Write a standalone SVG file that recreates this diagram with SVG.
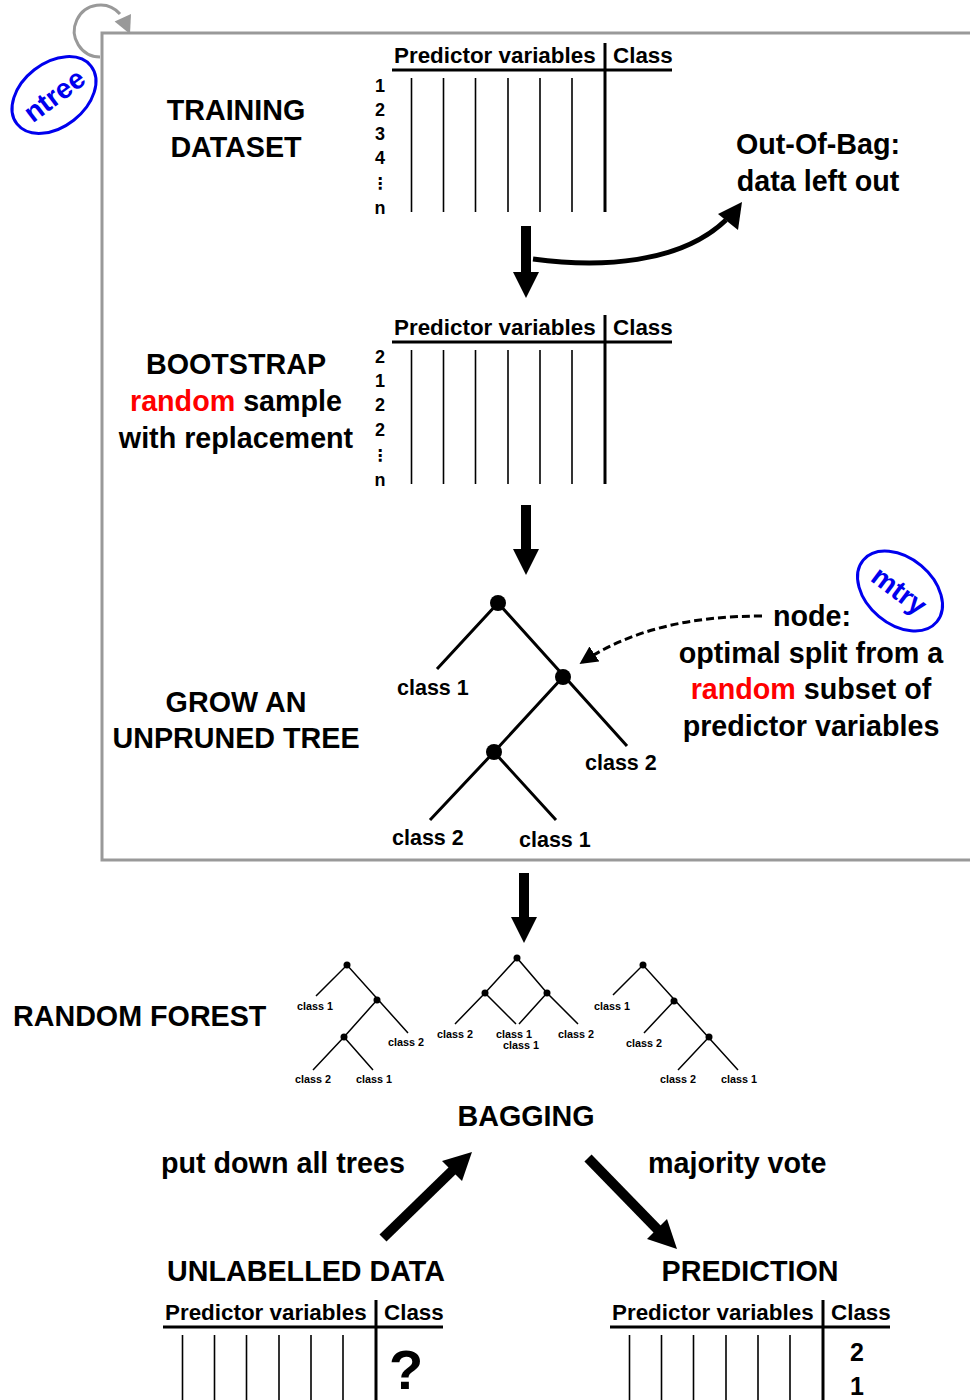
<svg xmlns="http://www.w3.org/2000/svg" width="970" height="1400" viewBox="0 0 970 1400">
<style>
text{font-family:"Liberation Sans",Arial,sans-serif;font-weight:bold;fill:#000}
.big{font-size:28.7px}
.hdr{font-size:22.4px}
.row{font-size:18px;text-anchor:middle}
.dots{font-family:"DejaVu Sans",sans-serif;font-size:16px;text-anchor:middle}
.lbl{font-size:21.5px}
.sm{font-size:10.8px}
.mid{text-anchor:middle}
.red{fill:#ff0000}
.blue{fill:#0000ee;font-size:28px;text-anchor:middle}
.thin{stroke:#000;stroke-width:1.6}
.thick{stroke:#000;stroke-width:3}
.edge{stroke:#000;stroke-width:3;fill:none}
.sedge{stroke:#000;stroke-width:1.5;fill:none}
.gray{stroke:#999;stroke-width:3;fill:none}
</style>
<defs>
<marker id="dhead" viewBox="0 0 10 10" refX="9" refY="5" markerWidth="6" markerHeight="6" orient="auto" markerUnits="strokeWidth">
<path d="M0,0 L10,5 L0,10 z" fill="#000"/>
</marker>
<g id="tbl">
<text class="hdr" x="2" y="-7">Predictor variables</text>
<text class="hdr" x="221" y="-7">Class</text>
<line class="thick" x1="0" y1="0" x2="280" y2="0"/>
<line class="thick" x1="213" y1="-27" x2="213" y2="142"/>
<line class="thin" x1="19.5" y1="8" x2="19.5" y2="142"/>
<line class="thin" x1="51.5" y1="8" x2="51.5" y2="142"/>
<line class="thin" x1="83.5" y1="8" x2="83.5" y2="142"/>
<line class="thin" x1="116" y1="8" x2="116" y2="142"/>
<line class="thin" x1="148" y1="8" x2="148" y2="142"/>
<line class="thin" x1="180" y1="8" x2="180" y2="142"/>
</g>
</defs>

<g id="frame">
<rect class="gray" x="102" y="33" width="900" height="827"/>
</g>

<g id="ntree-loop">
<path class="gray" d="M100 57 A26 26 0 1 1 120 14"/>
<polygon points="130,34 114.6,21.5 131,14" fill="#999"/>
</g>

<g id="ntree">
<ellipse cx="54" cy="95" rx="47" ry="32" transform="rotate(-38 54 95)" fill="none" stroke="#0000ee" stroke-width="3"/>
<text class="blue" x="54" y="105" transform="rotate(-37 54 95)">ntree</text>
</g>

<g id="training">
<text class="big mid" x="236" y="120">TRAINING</text>
<text class="big mid" x="236" y="157">DATASET</text>
</g>

<g id="table-training">
<use href="#tbl" transform="translate(392,70)"/>
<text class="row" x="380" y="92">1</text>
<text class="row" x="380" y="116">2</text>
<text class="row" x="380" y="140">3</text>
<text class="row" x="380" y="164">4</text>
<text class="dots" x="380" y="189">⋮</text>
<text class="row" x="380" y="214">n</text>
</g>

<g id="oob">
<text class="big mid" x="818" y="154">Out-Of-Bag:</text>
<text class="big mid" x="818" y="191">data left out</text>
</g>

<g id="bootstrap">
<text class="big mid" x="236" y="374">BOOTSTRAP</text>
<text class="big mid" x="236" y="411"><tspan class="red">random</tspan> sample</text>
<text class="big mid" x="236" y="448">with replacement</text>
</g>

<g id="table-bootstrap">
<use href="#tbl" transform="translate(392,342)"/>
<text class="row" x="380" y="363">2</text>
<text class="row" x="380" y="387">1</text>
<text class="row" x="380" y="411">2</text>
<text class="row" x="380" y="436">2</text>
<text class="dots" x="380" y="461">⋮</text>
<text class="row" x="380" y="486">n</text>
</g>

<g id="grow">
<text class="big mid" x="236" y="712">GROW AN</text>
<text class="big mid" x="236" y="748">UNPRUNED TREE</text>
</g>

<g id="tree">
<path class="edge" d="M437 669 L498 603 L627 746 M563 677 L494 752 L430 820 M494 752 L556 820"/>
<circle cx="498" cy="603" r="8"/>
<circle cx="563" cy="677" r="8"/>
<circle cx="494" cy="752" r="8"/>
<text class="lbl" x="397" y="695">class 1</text>
<text class="lbl" x="585" y="770">class 2</text>
<text class="lbl" x="392" y="845">class 2</text>
<text class="lbl" x="519" y="847">class 1</text>
</g>

<g id="node-note">
<text class="big" x="773" y="626">node:</text>
<text class="big mid" x="811" y="663">optimal split from a</text>
<text class="big mid" x="811" y="699"><tspan class="red">random</tspan> subset of</text>
<text class="big mid" x="811" y="736">predictor variables</text>
</g>

<g id="mtry">
<ellipse cx="900" cy="591" rx="48" ry="33" transform="rotate(40 900 591)" fill="none" stroke="#0000ee" stroke-width="3"/>
<text class="blue" x="899" y="600" transform="rotate(37 899 591)">mtry</text>
</g>

<g id="random-forest">
<text class="big" x="13" y="1026">RANDOM FOREST</text>
</g>

<g id="forest-tree-1">
<path class="sedge" d="M316 996 L347 965 L408 1033 M377 1000 L344 1037 L313 1070 M344 1037 L373 1070"/>
<circle cx="347" cy="965" r="3.5"/>
<circle cx="377" cy="1000" r="3.5"/>
<circle cx="344" cy="1037" r="3.5"/>
<text class="sm" x="297" y="1010">class 1</text>
<text class="sm" x="388" y="1046">class 2</text>
<text class="sm" x="295" y="1083">class 2</text>
<text class="sm" x="356" y="1083">class 1</text>
</g>

<g id="forest-tree-2">
<path class="sedge" d="M455 1024 L485 993 L517 958 L547 993 L578 1024 M485 993 L516 1024 M547 993 L519 1024"/>
<circle cx="517" cy="958" r="3.5"/>
<circle cx="485" cy="993" r="3.5"/>
<circle cx="547" cy="993" r="3.5"/>
<text class="sm" x="437" y="1038">class 2</text>
<text class="sm" x="496" y="1038">class 1</text>
<text class="sm" x="503" y="1049">class 1</text>
<text class="sm" x="558" y="1038">class 2</text>
</g>

<g id="forest-tree-3">
<path class="sedge" d="M613 995 L643 965 L738 1070 M674 1001 L644 1033 M709 1037 L678 1070"/>
<circle cx="643" cy="965" r="3.5"/>
<circle cx="674" cy="1001" r="3.5"/>
<circle cx="709" cy="1037" r="3.5"/>
<text class="sm" x="594" y="1010">class 1</text>
<text class="sm" x="626" y="1047">class 2</text>
<text class="sm" x="660" y="1083">class 2</text>
<text class="sm" x="721" y="1083">class 1</text>
</g>

<g id="bagging">
<text class="big mid" x="526" y="1126">BAGGING</text>
</g>

<g id="labels">
<text class="big" x="161" y="1173">put down all trees</text>
<text class="big" x="648" y="1173">majority vote</text>
</g>

<g id="unlabelled">
<text class="big mid" x="306" y="1281">UNLABELLED DATA</text>
<use href="#tbl" transform="translate(163,1327)"/>
<text x="406" y="1389" class="mid" style="font-size:56px">?</text>
</g>

<g id="prediction">
<text class="big mid" x="750" y="1281">PREDICTION</text>
<use href="#tbl" transform="translate(610,1327)"/>
<text x="857" y="1361" class="mid" style="font-size:25px">2</text>
<text x="857" y="1395" class="mid" style="font-size:25px">1</text>
</g>

<g id="connectors">
<polygon points="521,226 531,226 531,272 539,272 526,298 513,272 521,272"/>
<polygon points="521,505 531,505 531,549 539,549 526,575 513,549 521,549"/>
<polygon points="519,873 529,873 529,917 537,917 524,943 511,917 519,917"/>
<path d="M533 259 C600 268 680 264 726 220" fill="none" stroke="#000" stroke-width="5"/>
<polygon points="742,202 718,214 738,230"/>
<path d="M762 616 C690 616 630 630 581 663" fill="none" stroke="#000" stroke-width="3" stroke-dasharray="8,4" marker-end="url(#dhead)"/>
<line x1="383" y1="1238" x2="455" y2="1168" stroke="#000" stroke-width="10"/>
<polygon points="472,1152 462,1181 442,1161"/>
<line x1="588" y1="1158" x2="660" y2="1232" stroke="#000" stroke-width="10"/>
<polygon points="677,1249 667,1219 647,1239"/>
</g>
</svg>
